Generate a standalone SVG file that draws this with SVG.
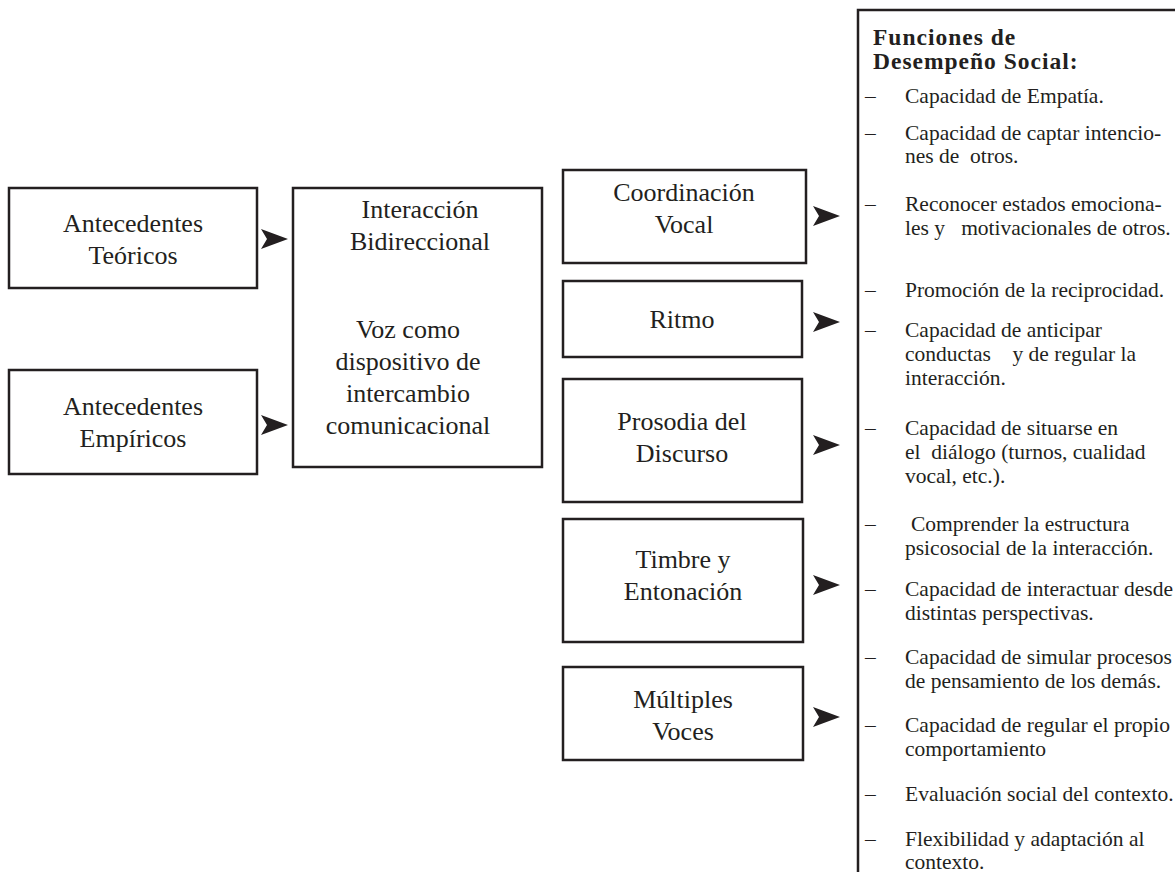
<svg xmlns="http://www.w3.org/2000/svg" width="1175" height="872" viewBox="0 0 1175 872">
<defs>
<style>
.box{fill:#fff;stroke:#231f20;stroke-width:2.5}
.lbl{font-family:"Liberation Serif","Times New Roman",serif;font-size:26px;fill:#231f20;text-anchor:middle}
.li{font-family:"Liberation Serif","Times New Roman",serif;font-size:21.5px;fill:#231f20;white-space:pre}
.hd{font-family:"Liberation Serif","Times New Roman",serif;font-size:23.5px;font-weight:bold;letter-spacing:1px;fill:#231f20}
.ah{fill:#231f20}
</style>
<polygon id="arr" points="0,-10 27,0 0,10 6,0"/>
</defs>
<rect width="1175" height="872" fill="#fff"/>

<g id="ant-teoricos">
<rect class="box" x="9" y="188" width="248" height="100"/>
<text class="lbl" x="133" y="232">Antecedentes</text>
<text class="lbl" x="133" y="264">Teóricos</text>
</g>
<g id="ant-empiricos">
<rect class="box" x="9" y="370" width="248" height="104"/>
<text class="lbl" x="133" y="415">Antecedentes</text>
<text class="lbl" x="133" y="447">Empíricos</text>
</g>
<g id="interaccion">
<rect class="box" x="293" y="188" width="249" height="279"/>
<text class="lbl" x="420" y="218">Interacción</text>
<text class="lbl" x="420" y="250">Bidireccional</text>
<text class="lbl" x="408" y="338">Voz como</text>
<text class="lbl" x="408" y="370">dispositivo de</text>
<text class="lbl" x="408" y="402">intercambio</text>
<text class="lbl" x="408" y="434">comunicacional</text>
</g>
<g id="coordinacion">
<rect class="box" x="563" y="170" width="243" height="93"/>
<text class="lbl" x="684" y="201">Coordinación</text>
<text class="lbl" x="684" y="233">Vocal</text>
</g>
<g id="ritmo">
<rect class="box" x="563" y="281" width="239" height="76"/>
<text class="lbl" x="682" y="328">Ritmo</text>
</g>
<g id="prosodia">
<rect class="box" x="563" y="379" width="239" height="123"/>
<text class="lbl" x="682" y="430">Prosodia del</text>
<text class="lbl" x="682" y="462">Discurso</text>
</g>
<g id="timbre">
<rect class="box" x="563" y="519" width="240" height="123"/>
<text class="lbl" x="683" y="568">Timbre y</text>
<text class="lbl" x="683" y="600">Entonación</text>
</g>
<g id="multiples">
<rect class="box" x="563" y="667" width="240" height="93"/>
<text class="lbl" x="683" y="708">Múltiples</text>
<text class="lbl" x="683" y="740">Voces</text>
</g>

<g id="funciones">
<rect class="box" x="858" y="10" width="400" height="900"/>
<text class="hd" x="873" y="45">Funciones de</text>
<text class="hd" x="873" y="69">Desempeño Social:</text>
<g class="li">
<text x="865" y="103">–</text><text x="905" y="103">Capacidad de Empatía.</text>
<text x="865" y="140">–</text><text x="905" y="140">Capacidad de captar intencio-</text>
<text x="905" y="163" xml:space="preserve">nes de  otros.</text>
<text x="865" y="211">–</text><text x="905" y="211">Reconocer estados emociona-</text>
<text x="905" y="235" xml:space="preserve">les y   motivacionales de otros.</text>
<text x="865" y="297">–</text><text x="905" y="297">Promoción de la reciprocidad.</text>
<text x="865" y="337">–</text><text x="905" y="337">Capacidad de anticipar</text>
<text x="905" y="361" xml:space="preserve">conductas    y de regular la</text>
<text x="905" y="385">interacción.</text>
<text x="865" y="435">–</text><text x="905" y="435">Capacidad de situarse en</text>
<text x="905" y="459" xml:space="preserve">el  diálogo (turnos, cualidad</text>
<text x="905" y="483">vocal, etc.).</text>
<text x="865" y="531">–</text><text x="911" y="531">Comprender la estructura</text>
<text x="905" y="555">psicosocial de la interacción.</text>
<text x="865" y="596">–</text><text x="905" y="596">Capacidad de interactuar desde</text>
<text x="905" y="620">distintas perspectivas.</text>
<text x="865" y="664">–</text><text x="905" y="664">Capacidad de simular procesos</text>
<text x="905" y="688">de pensamiento de los demás.</text>
<text x="865" y="732">–</text><text x="905" y="732">Capacidad de regular el propio</text>
<text x="905" y="756">comportamiento</text>
<text x="865" y="801">–</text><text x="905" y="801">Evaluación social del contexto.</text>
<text x="865" y="846">–</text><text x="905" y="846">Flexibilidad y adaptación al</text>
<text x="905" y="869">contexto.</text>
</g>
</g>

<g id="connectors" class="ah">
<use href="#arr" x="261" y="239"/>
<use href="#arr" x="261" y="425"/>
<use href="#arr" x="813" y="216"/>
<use href="#arr" x="813" y="322"/>
<use href="#arr" x="813" y="445"/>
<use href="#arr" x="813" y="585"/>
<use href="#arr" x="813" y="717"/>
</g>
</svg>
